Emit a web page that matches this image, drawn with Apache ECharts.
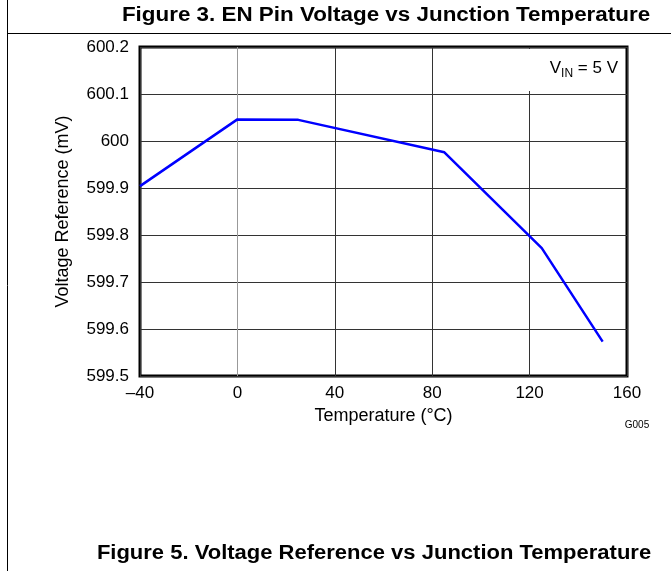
<!DOCTYPE html>
<html>
<head>
<meta charset="utf-8">
<script src="https://cdn.jsdelivr.net/npm/echarts@6/dist/echarts.min.js"></script>
<style>
  html, body { margin: 0; padding: 0; background: #fff; }
  #main { width: 671px; height: 571px; }
</style>
</head>
<body>
<div id="main"></div>
<script>
const temps = [-40, 0, 25, 85, 125, 150]
const vref = [599.904, 600.046, 600.045, 599.976, 599.772, 599.573]
const xTicks = [-40, 0, 40, 80, 120, 160]
const yTicks = [599.5, 599.6, 599.7, 599.8, 599.9, 600, 600.1, 600.2]

const myChart = echarts.init(document.querySelector('#main'))
const font = 'Liberation Sans, Arial, Helvetica, sans-serif'

// vertical grid line at 0 is grey, the others dark
const vColors = xTicks.map(t => t === 0 ? '#999' : '#333')

let option = {
  animation: false,
  textStyle: { fontFamily: font },
  grid: {
    left: 140, top: 47, right: 44, bottom: 195,
    containLabel: false,
    outerBoundsMode: 'none',
    show: true,
    borderColor: '#000',
    borderWidth: 3
  },
  xAxis: {
    type: 'value',
    min: xTicks[0],
    max: xTicks[xTicks.length - 1],
    interval: 40,
    name: 'Temperature (°C)',
    nameLocation: 'middle',
    nameGap: 30,
    nameTextStyle: { fontSize: 18, color: '#000', fontFamily: font },
    axisLine: { show: false },
    axisTick: { show: false },
    axisLabel: {
      fontSize: 17, color: '#000', margin: 9,
      formatter: v => v < 0 ? '\u2013' + Math.abs(v) : String(v)
    },
    splitLine: { show: true, lineStyle: { color: vColors, width: 1 } }
  },
  yAxis: {
    type: 'value',
    min: yTicks[0],
    max: yTicks[yTicks.length - 1],
    interval: 0.1,
    name: 'Voltage Reference (mV)',
    nameLocation: 'middle',
    nameGap: 68,
    nameRotate: 90,
    nameTextStyle: { fontSize: 18, color: '#000', fontFamily: font },
    axisLine: { show: false },
    axisTick: { show: false },
    axisLabel: {
      fontSize: 17, color: '#000', margin: 11,
      formatter: v => String(Math.round(v * 10) / 10)
    },
    splitLine: { show: true, lineStyle: { color: '#333', width: 1 } }
  },
  series: [
    {
      type: 'line',
      data: temps.map((t, i) => [t, vref[i]]),
      symbol: 'none',
      lineStyle: { color: '#0000ff', width: 2.5 },
      z: 5
    }
  ],
  graphic: [
    // page frame
    { type: 'line', shape: { x1: 7.5, y1: 0, x2: 7.5, y2: 571 }, style: { stroke: '#000', lineWidth: 1 } },
    { type: 'line', shape: { x1: 7, y1: 33.5, x2: 671, y2: 33.5 }, style: { stroke: '#000', lineWidth: 1 } },
    {
      type: 'text', x: 386, y: 15, scaleX: 1.12,
      style: {
        text: 'Figure 3. EN Pin Voltage vs Junction Temperature',
        font: 'bold 20px ' + font, fill: '#000',
        textAlign: 'center', textVerticalAlign: 'middle'
      }
    },
    {
      type: 'text', x: 374, y: 553, scaleX: 1.1,
      style: {
        text: 'Figure 5. Voltage Reference vs Junction Temperature',
        font: 'bold 20px ' + font, fill: '#000',
        textAlign: 'center', textVerticalAlign: 'middle'
      }
    },
    // condition box
    { type: 'rect', z: 3, shape: { x: 445, y: 49, width: 180, height: 42 }, style: { fill: '#fff' } },
    {
      type: 'text', z: 4, x: 618, y: 68,
      style: {
        text: '{v|V}{s|IN}{v| = 5 V}',
        textAlign: 'right', textVerticalAlign: 'middle',
        rich: {
          v: { fontSize: 17, fontFamily: font, fill: '#000', lineHeight: 24, verticalAlign: 'middle' },
          s: { fontSize: 12, fontFamily: font, fill: '#000', lineHeight: 24, verticalAlign: 'bottom' }
        }
      }
    },
    {
      type: 'text', x: 637, y: 425,
      style: {
        text: 'G005', font: '10px ' + font, fill: '#000',
        textAlign: 'center', textVerticalAlign: 'middle'
      }
    }
  ]
};
option && myChart.setOption(option);
</script>
</body>
</html>
